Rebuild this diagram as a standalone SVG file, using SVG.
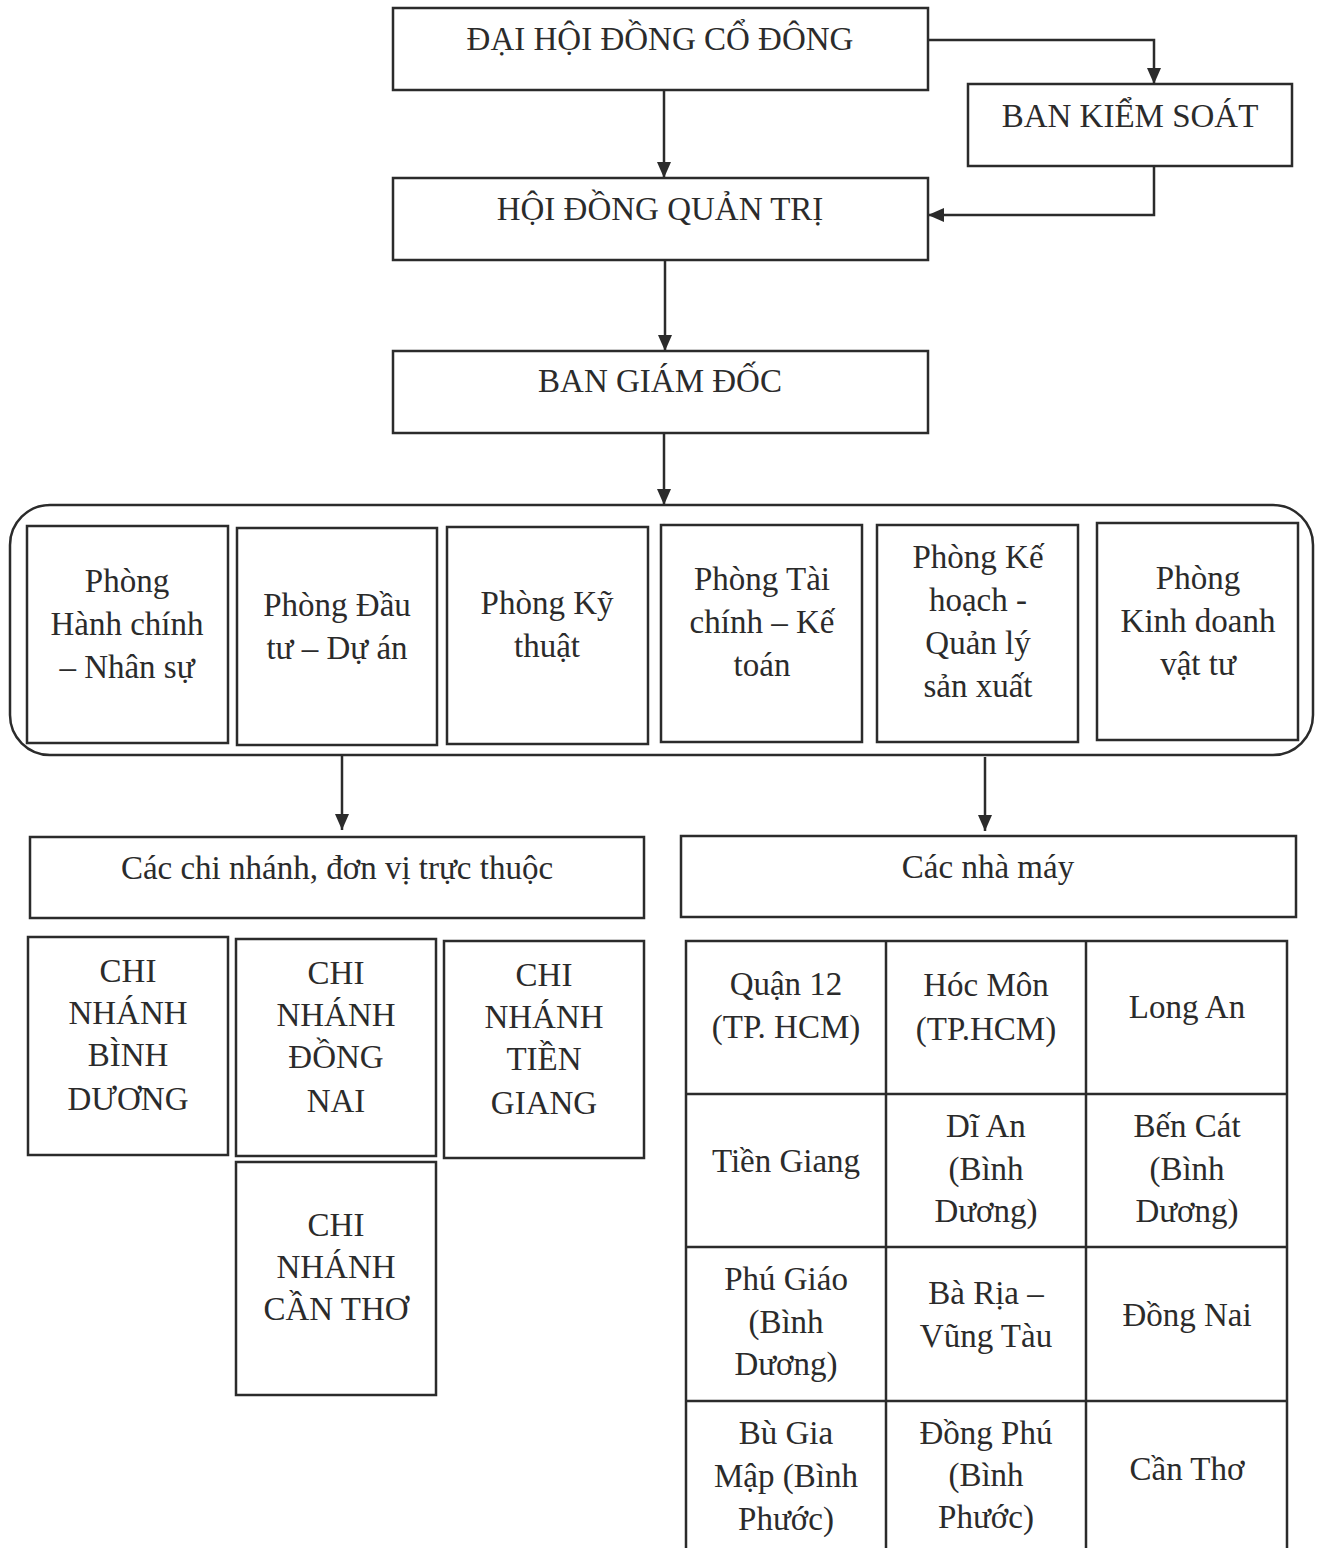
<svg xmlns="http://www.w3.org/2000/svg" width="1320" height="1548" viewBox="0 0 1320 1548">
<defs>
<style>
.b{fill:#fff;stroke:#2b2b2b;stroke-width:2.5}
.t{font-family:"Liberation Serif","Times New Roman",serif;font-size:33px;fill:#2b2b2b;text-anchor:middle}
.c{fill:none;stroke:#2b2b2b;stroke-width:2.5}
</style>
<marker id="ah" viewBox="0 0 10 10" refX="10" refY="5" markerWidth="6" markerHeight="6" orient="auto" markerUnits="userSpaceOnUse" overflow="visible">
<path d="M0,0 L10,5 L0,10 Z" fill="#2b2b2b" transform="scale(1.6) translate(-3.75,-1.9)"/>
</marker>
<marker id="a" viewBox="0 0 16 14" refX="16" refY="7" markerWidth="16" markerHeight="14" orient="auto" markerUnits="userSpaceOnUse">
<path d="M0,0 L16,7 L0,14 Z" fill="#2b2b2b"/>
</marker>
</defs>
<rect width="1320" height="1548" fill="#fff"/>

<g id="connectors">
<path class="c" d="M928,40 H1154 V84" marker-end="url(#a)"/>
<path class="c" d="M1154,166 V215 H928" marker-end="url(#a)"/>
<path class="c" d="M664,90 V178" marker-end="url(#a)"/>
<path class="c" d="M665,260 V351" marker-end="url(#a)"/>
<path class="c" d="M664,433 V505" marker-end="url(#a)"/>
<path class="c" d="M342,755 V830" marker-end="url(#a)"/>
<path class="c" d="M985,757 V831" marker-end="url(#a)"/>
</g>

<g id="dhdcd"><rect class="b" x="393" y="8" width="535" height="82"/><text class="t" x="660" y="50">ĐẠI HỘI ĐỒNG CỔ ĐÔNG</text></g>
<g id="bks"><rect class="b" x="968" y="84" width="324" height="82"/><text class="t" x="1130" y="127">BAN KIỂM SOÁT</text></g>
<g id="hdqt"><rect class="b" x="393" y="178" width="535" height="82"/><text class="t" x="660" y="220">HỘI ĐỒNG QUẢN TRỊ</text></g>
<g id="bgd"><rect class="b" x="393" y="351" width="535" height="82"/><text class="t" x="660" y="392">BAN GIÁM ĐỐC</text></g>

<g id="phong-group"><rect class="b" x="10" y="505" width="1303" height="250" rx="40" ry="40"/></g>
<g id="p1"><rect class="b" x="27" y="526" width="201" height="217"/><text class="t" x="127" y="592">Phòng</text><text class="t" x="127" y="635">Hành chính</text><text class="t" x="127" y="678">– Nhân sự</text></g>
<g id="p2"><rect class="b" x="237" y="528" width="200" height="217"/><text class="t" x="337" y="616">Phòng Đầu</text><text class="t" x="337" y="659">tư – Dự án</text></g>
<g id="p3"><rect class="b" x="447" y="527" width="201" height="217"/><text class="t" x="547" y="614">Phòng Kỹ</text><text class="t" x="547" y="657">thuật</text></g>
<g id="p4"><rect class="b" x="661" y="525" width="201" height="217"/><text class="t" x="762" y="590">Phòng Tài</text><text class="t" x="762" y="633">chính – Kế</text><text class="t" x="762" y="676">toán</text></g>
<g id="p5"><rect class="b" x="877" y="525" width="201" height="217"/><text class="t" x="978" y="568">Phòng Kế</text><text class="t" x="978" y="611">hoạch -</text><text class="t" x="978" y="654">Quản lý</text><text class="t" x="978" y="697">sản xuất</text></g>
<g id="p6"><rect class="b" x="1097" y="523" width="201" height="217"/><text class="t" x="1198" y="589">Phòng</text><text class="t" x="1198" y="632">Kinh doanh</text><text class="t" x="1198" y="675">vật tư</text></g>

<g id="chinhanh"><rect class="b" x="30" y="837" width="614" height="81"/><text class="t" x="337" y="879">Các chi nhánh, đơn vị trực thuộc</text></g>
<g id="nhamay"><rect class="b" x="681" y="836" width="615" height="81"/><text class="t" x="988" y="878">Các nhà máy</text></g>

<g id="cn-bd"><rect class="b" x="28" y="937" width="200" height="218"/><text class="t" x="128" y="982">CHI</text><text class="t" x="128" y="1024">NHÁNH</text><text class="t" x="128" y="1066">BÌNH</text><text class="t" x="128" y="1110">DƯƠNG</text></g>
<g id="cn-dn"><rect class="b" x="236" y="939" width="200" height="217"/><text class="t" x="336" y="984">CHI</text><text class="t" x="336" y="1026">NHÁNH</text><text class="t" x="336" y="1068">ĐỒNG</text><text class="t" x="336" y="1112">NAI</text></g>
<g id="cn-tg"><rect class="b" x="444" y="941" width="200" height="217"/><text class="t" x="544" y="986">CHI</text><text class="t" x="544" y="1028">NHÁNH</text><text class="t" x="544" y="1070">TIỀN</text><text class="t" x="544" y="1114">GIANG</text></g>
<g id="cn-ct"><rect class="b" x="236" y="1162" width="200" height="233"/><text class="t" x="336" y="1236">CHI</text><text class="t" x="336" y="1278">NHÁNH</text><text class="t" x="336" y="1320">CẦN THƠ</text></g>

<g id="nm-grid">
<path class="c" d="M686,1560 V941 H1287 V1560 M886,941 V1560 M1086,941 V1560 M686,1094 H1287 M686,1247 H1287 M686,1401 H1287"/>
</g>
<g id="nm-q12"><text class="t" x="786" y="995">Quận 12</text><text class="t" x="786" y="1038">(TP. HCM)</text></g>
<g id="nm-hm"><text class="t" x="986" y="996">Hóc Môn</text><text class="t" x="986" y="1040">(TP.HCM)</text></g>
<g id="nm-la"><text class="t" x="1187" y="1018">Long An</text></g>
<g id="nm-tg"><text class="t" x="786" y="1172">Tiền Giang</text></g>
<g id="nm-da"><text class="t" x="986" y="1137">Dĩ An</text><text class="t" x="986" y="1180">(Bình</text><text class="t" x="986" y="1222">Dương)</text></g>
<g id="nm-bc"><text class="t" x="1187" y="1137">Bến Cát</text><text class="t" x="1187" y="1180">(Bình</text><text class="t" x="1187" y="1222">Dương)</text></g>
<g id="nm-pg"><text class="t" x="786" y="1290">Phú Giáo</text><text class="t" x="786" y="1333">(Bình</text><text class="t" x="786" y="1375">Dương)</text></g>
<g id="nm-brvt"><text class="t" x="986" y="1304">Bà Rịa –</text><text class="t" x="986" y="1347">Vũng Tàu</text></g>
<g id="nm-dn"><text class="t" x="1187" y="1326">Đồng Nai</text></g>
<g id="nm-bgm"><text class="t" x="786" y="1444">Bù Gia</text><text class="t" x="786" y="1487">Mập (Bình</text><text class="t" x="786" y="1530">Phước)</text></g>
<g id="nm-dp"><text class="t" x="986" y="1444">Đồng Phú</text><text class="t" x="986" y="1486">(Bình</text><text class="t" x="986" y="1528">Phước)</text></g>
<g id="nm-ct"><text class="t" x="1187" y="1480">Cần Thơ</text></g>
</svg>
